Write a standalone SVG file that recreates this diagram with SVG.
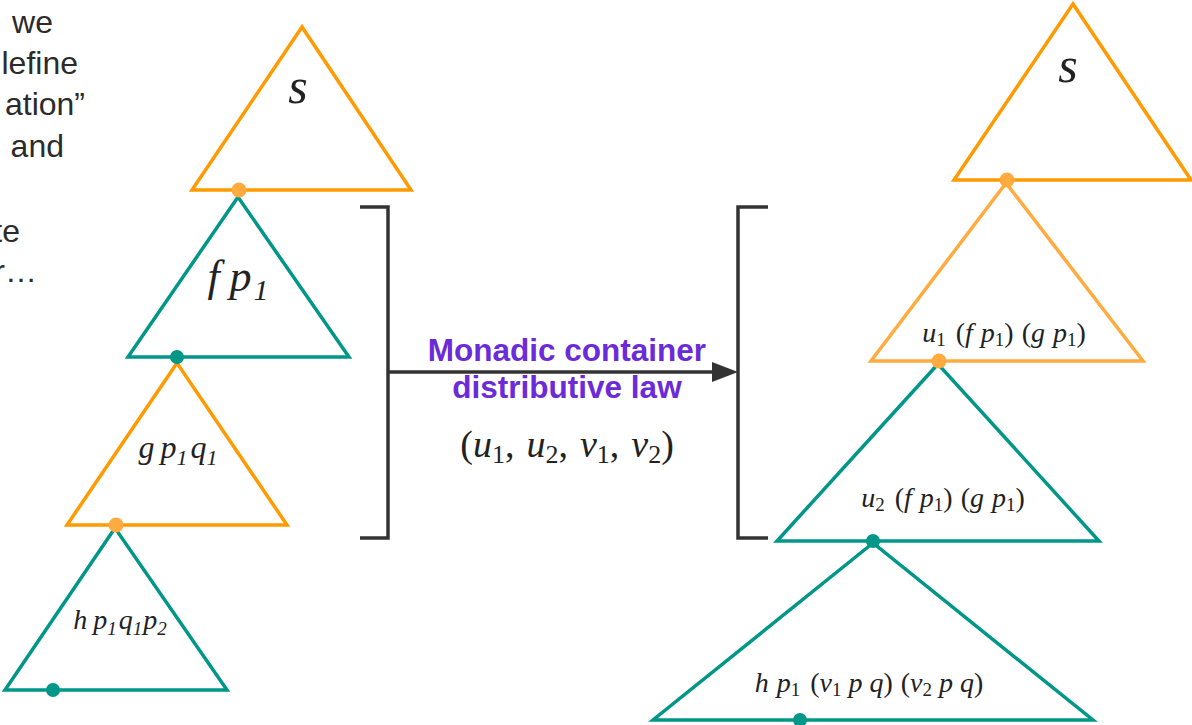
<svg xmlns="http://www.w3.org/2000/svg" width="1192" height="725" viewBox="0 0 1192 725">
<style>
.tri{fill:none;stroke-width:3.5;stroke-linejoin:miter}
.or{stroke:#FF9A00}
.lor{stroke:#FFAB40}
.tl{stroke:#009688}
.dor{fill:#FFAB40}
.dtl{fill:#009688}
.m{font-family:"Liberation Serif","Times New Roman","DejaVu Serif",serif;fill:#222;text-anchor:middle}
.i{font-style:italic}
.body{font-family:"Liberation Sans",Arial,sans-serif;font-size:32px;fill:#2b2b2b;text-anchor:end}
.lab{font-family:"Liberation Sans",Arial,sans-serif;font-weight:bold;font-size:31.5px;fill:#6B2BD9;text-anchor:middle}
.br{fill:none;stroke:#333;stroke-width:3.5}
</style>
<rect width="1192" height="725" fill="#fff"/>
<g id="side-text">
<text class="body" x="53" y="33">we</text>
<text class="body" x="78" y="74">lefine</text>
<text class="body" x="85" y="115">ation”</text>
<text class="body" x="64" y="157">and</text>
<text class="body" x="20" y="242">te</text>
<text class="body" x="37" y="282">r…</text>
</g>
<g id="left-s">
<polygon class="tri or" points="302,27 192,190 411,190"/>
<text class="m i" x="298" y="103" font-size="50">s</text>
</g>
<g id="left-fp1">
<polygon class="tri tl" points="238,197 128,357 349,357"/>
<text class="m" x="238" y="291" font-size="44"><tspan class="i">f</tspan><tspan class="i" dx="10">p</tspan><tspan class="i" font-size="30" dy="9" dx="2">1</tspan></text>
</g>
<g id="left-gp1q1">
<polygon class="tri or" points="177,363 67,525 287,525"/>
<text class="m" x="178" y="458" font-size="32"><tspan class="i">g</tspan><tspan class="i" dx="6">p</tspan><tspan class="i" font-size="22" dy="7">1</tspan><tspan class="i" dy="-7" dx="3">q</tspan><tspan class="i" font-size="22" dy="7">1</tspan></text>
</g>
<g id="left-hp1q1p2">
<polygon class="tri tl" points="115,528 5,690 227,690"/>
<text class="m" x="120" y="629" font-size="28"><tspan class="i">h</tspan><tspan class="i" dx="6">p</tspan><tspan class="i" font-size="19" dy="6">1</tspan><tspan class="i" dy="-6" dx="2">q</tspan><tspan class="i" font-size="19" dy="6">1</tspan><tspan class="i" dy="-6" dx="1">p</tspan><tspan class="i" font-size="19" dy="6">2</tspan></text>
</g>
<g id="right-s">
<polygon class="tri or" points="1073,4 954,180 1191,180"/>
<text class="m i" x="1068" y="82" font-size="50">s</text>
</g>
<g id="right-u1">
<polygon class="tri lor" points="1006,183 871,361 1143,361"/>
<text class="m" x="1004" y="342" font-size="28"><tspan class="i">u</tspan><tspan font-size="19" dy="4">1</tspan><tspan dy="-4" dx="10">(</tspan><tspan class="i">f</tspan><tspan class="i" dx="8">p</tspan><tspan font-size="19" dy="4">1</tspan><tspan dy="-4">)</tspan><tspan dx="8">(</tspan><tspan class="i">g</tspan><tspan class="i" dx="8">p</tspan><tspan font-size="19" dy="4">1</tspan><tspan dy="-4">)</tspan></text>
</g>
<g id="right-u2">
<polygon class="tri tl" points="938,364 777,541 1099,541"/>
<text class="m" x="943" y="507" font-size="28"><tspan class="i">u</tspan><tspan font-size="19" dy="4">2</tspan><tspan dy="-4" dx="10">(</tspan><tspan class="i">f</tspan><tspan class="i" dx="8">p</tspan><tspan font-size="19" dy="4">1</tspan><tspan dy="-4">)</tspan><tspan dx="8">(</tspan><tspan class="i">g</tspan><tspan class="i" dx="8">p</tspan><tspan font-size="19" dy="4">1</tspan><tspan dy="-4">)</tspan></text>
</g>
<g id="right-h">
<polygon class="tri tl" points="873,543 653,720 1093,720"/>
<text class="m" x="869" y="692" font-size="28"><tspan class="i">h</tspan><tspan class="i" dx="8">p</tspan><tspan font-size="19" dy="4">1</tspan><tspan dy="-4" dx="10">(</tspan><tspan class="i">v</tspan><tspan font-size="19" dy="4">1</tspan><tspan class="i" dy="-4" dx="7">p</tspan><tspan class="i" dx="7">q</tspan><tspan>)</tspan><tspan dx="8">(</tspan><tspan class="i">v</tspan><tspan font-size="19" dy="4">2</tspan><tspan class="i" dy="-4" dx="7">p</tspan><tspan class="i" dx="7">q</tspan><tspan>)</tspan></text>
</g>
<g id="dots">
<circle class="dor" cx="239" cy="190" r="7.5"/>
<circle class="dtl" cx="177" cy="357" r="7"/>
<circle class="dor" cx="116" cy="525" r="7.5"/>
<circle class="dtl" cx="53" cy="690" r="7"/>
<circle class="dor" cx="1007" cy="180" r="7.5"/>
<circle class="dor" cx="939" cy="361" r="7.5"/>
<circle class="dtl" cx="873" cy="541" r="7"/>
<circle class="dtl" cx="800" cy="720" r="7"/>
</g>
<g id="connectors">
<polyline class="br" points="360,207 388,207 388,538 360,538"/>
<polyline class="br" points="768,207 738,207 738,538 768,538"/>
<line x1="388" y1="372" x2="714" y2="372" stroke="#333" stroke-width="3.5"/>
<polygon points="712,362 738,372 712,382" fill="#333"/>
</g>
<g id="law-label">
<text class="lab" x="567" y="361">Monadic container</text>
<text class="lab" x="567" y="398">distributive law</text>
<text class="m" x="567" y="457" font-size="38"><tspan>(</tspan><tspan class="i">u</tspan><tspan font-size="26" dy="6">1</tspan><tspan dy="-6">,</tspan><tspan class="i" dx="12">u</tspan><tspan font-size="26" dy="6">2</tspan><tspan dy="-6">,</tspan><tspan class="i" dx="12">v</tspan><tspan font-size="26" dy="6">1</tspan><tspan dy="-6">,</tspan><tspan class="i" dx="12">v</tspan><tspan font-size="26" dy="6">2</tspan><tspan dy="-6">)</tspan></text>
</g>
</svg>
